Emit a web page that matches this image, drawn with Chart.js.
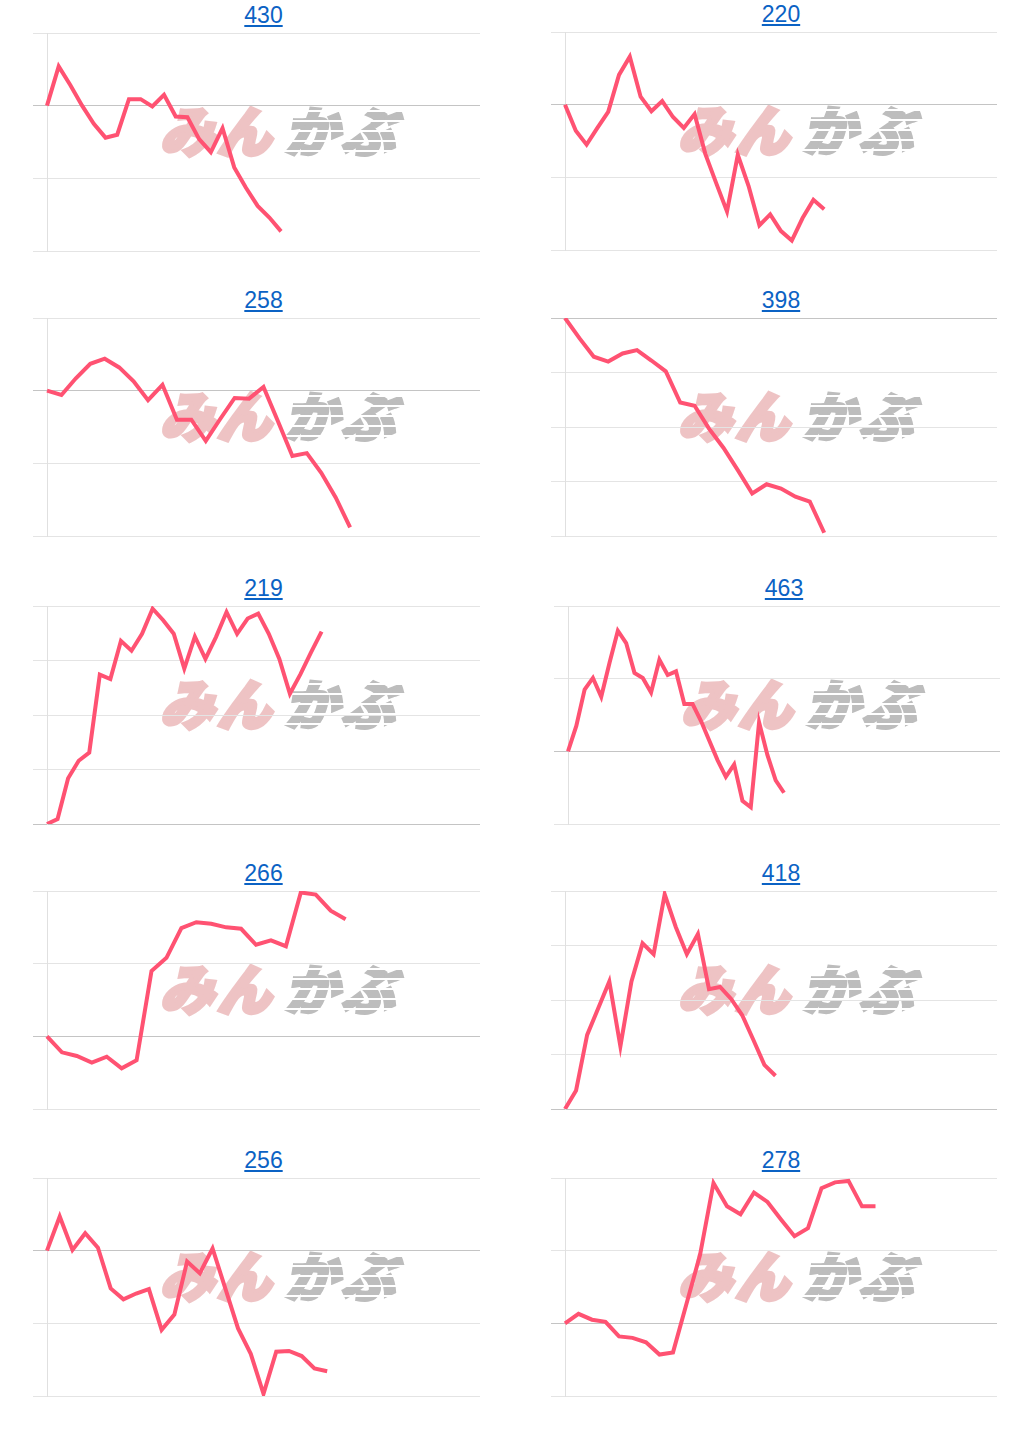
<!DOCTYPE html>
<html>
<head>
<meta charset="utf-8">
<script src="https://cdn.jsdelivr.net/npm/chart.js@4/dist/chart.umd.min.js"></script>
<style>
  body { margin: 0; background: #fff; width: 1034px; height: 1430px; position: relative; overflow: hidden;
         font-family: "Liberation Sans", Arial, sans-serif; }
  .ttl { position: absolute; text-align: center; font-size: 23px; line-height: 26px; }
  .ttl a { color: #0b62c4; text-decoration: underline; }
  .wm { position: absolute; white-space: nowrap; font-family: "Noto Sans CJK JP"; font-weight: 900;
        font-size: 54px; line-height: 54px; transform: skewX(-14deg); transform-origin: left bottom; }
  .wm span { position: relative; display: inline-block; }
  .wm .a { color: #eec3c4; -webkit-text-stroke: 4px #eec3c4; letter-spacing: 3px; }
  .wm .b { margin-left: 10px; color: #bdbdbd; -webkit-text-stroke: 3px #bdbdbd; letter-spacing: 3px; }
  .wm .b::after { content: ""; position: absolute; left: -4px; right: -4px; top: 0; bottom: 0;
                  background: repeating-linear-gradient(to bottom, rgba(255,255,255,0) 0 8px, #fff 8px 10px); }
  canvas { position: absolute; }
</style>
</head>
<body>
<script>
// stock titles (link text above each chart)
const titles = ['430', '220', '258', '398', '219', '463', '266', '418', '256', '278'];

// number of time slots on the x axis for each chart
const slotCounts = [38, 41, 31, 31, 42, 53, 30, 40, 35, 33];

// y range (% change from start), gridline every 1
const yMins = [-2, -2, -2, -4, 0, -1, -1, 0, -2, -1];
const yMaxs = [1, 1, 1, 0, 4, 2, 2, 4, 1, 2];

// series, % change from the first value
const s430 = [0, 0.54, 0.28, 0, -0.25, -0.44, -0.40, 0.09, 0.09, -0.01, 0.15, -0.15, -0.16, -0.46, -0.64,
              -0.31, -0.85, -1.13, -1.38, -1.54, -1.73];
const s220 = [0, -0.36, -0.55, -0.32, -0.10, 0.41, 0.66, 0.11, -0.09, 0.05, -0.17, -0.32, -0.13, -0.68,
              -1.08, -1.47, -0.69, -1.12, -1.66, -1.51, -1.74, -1.87, -1.56, -1.31, -1.44];
const s258 = [0, -0.06, 0.17, 0.37, 0.44, 0.32, 0.13, -0.13, 0.08, -0.40, -0.40, -0.69, -0.39, -0.10,
              -0.11, 0.05, -0.42, -0.90, -0.86, -1.13, -1.47, -1.88];
const s398 = [0, -0.37, -0.71, -0.80, -0.65, -0.59, -0.78, -0.98, -1.55, -1.61, -2.03, -2.38, -2.79,
              -3.22, -3.05, -3.13, -3.28, -3.37, -3.94];
const s219 = [0, 0.09, 0.84, 1.16, 1.31, 2.74, 2.66, 3.36, 3.18, 3.49, 3.95, 3.74, 3.49, 2.85, 3.44, 3.03,
              3.43, 3.89, 3.49, 3.77, 3.86, 3.49, 3.03, 2.39, 2.75, 3.15, 3.53];
const s463 = [0, 0.35, 0.85, 1.01, 0.75, 1.22, 1.66, 1.49, 1.08, 1.01, 0.81, 1.26, 1.05, 1.10, 0.65, 0.65,
              0.42, 0.15, -0.12, -0.35, -0.18, -0.68, -0.77, 0.40, -0.05, -0.40, -0.57];
const s266 = [0, -0.22, -0.27, -0.36, -0.28, -0.44, -0.33, 0.90, 1.08, 1.49, 1.57, 1.55, 1.50, 1.48, 1.26,
              1.32, 1.24, 1.98, 1.95, 1.73, 1.61];
const s418 = [0, 0.34, 1.36, 1.85, 2.34, 1.15, 2.34, 3.04, 2.84, 3.94, 3.34, 2.84, 3.21, 2.20, 2.24, 2.02,
              1.72, 1.27, 0.81, 0.61];
const s256 = [0, 0.47, 0.01, 0.24, 0.04, -0.52, -0.67, -0.59, -0.53, -1.09, -0.88, -0.15, -0.31, 0.03,
              -0.52, -1.07, -1.42, -1.97, -1.39, -1.38, -1.45, -1.62, -1.66];
const s278 = [0, 0.13, 0.05, 0.02, -0.18, -0.20, -0.26, -0.43, -0.40, 0.27, 0.94, 1.93, 1.61, 1.50, 1.80,
              1.67, 1.43, 1.20, 1.31, 1.86, 1.94, 1.96, 1.61, 1.61];

const seriesList = [s430, s220, s258, s398, s219, s463, s266, s418, s256, s278];

// layout: chart area boxes in page pixels
const colLeft = [47, 565];
const colWidth = [433, 432];
const rowTop = [33, 318, 606, 891, 1178];
const areaH = 218;
const tickLen = 14;
const pad = 4;

Chart.defaults.font.family = '"Liberation Sans", Arial, sans-serif';

titles.forEach((t, i) => {
  const col = i % 2, row = Math.floor(i / 2);
  let left = colLeft[col];
  if (i === 5) left += 3;      // 463 sits a little to the right
  let top = rowTop[row];
  if (i === 1) top -= 1;
  const w = colWidth[col];

  const ttl = document.createElement('div');
  ttl.className = 'ttl';
  ttl.style.left = left + 'px';
  ttl.style.width = w + 'px';
  ttl.style.top = (top - 31) + 'px';
  ttl.innerHTML = '<a href="#">' + t + '</a>';
  document.body.appendChild(ttl);

  const wm = document.createElement('div');
  wm.className = 'wm';
  wm.style.left = (left + 112) + 'px';
  wm.style.top = (top + 69) + 'px';
  wm.innerHTML = '<span class="a">みん</span><span class="b">かぶ</span>';
  document.body.appendChild(wm);

  const cv = document.createElement('canvas');
  cv.width = w + tickLen + pad;
  cv.height = areaH + pad * 2;
  cv.style.left = (left - tickLen) + 'px';
  cv.style.top = (top - pad) + 'px';
  document.body.appendChild(cv);

  const labels = Array.from({ length: slotCounts[i] }, (_, k) => k);

  new Chart(cv, {
    type: 'line',
    data: {
      labels,
      datasets: [{
        data: seriesList[i],
        borderColor: '#ff5272',
        borderWidth: 4,
        pointRadius: 0,
        tension: 0,
        fill: false
      }]
    },
    options: {
      responsive: false,
      animation: false,
      devicePixelRatio: 1,
      layout: { padding: { top: pad, bottom: pad, right: pad, left: 0 } },
      plugins: { legend: { display: false }, tooltip: { enabled: false } },
      scales: {
        x: { display: false },
        y: {
          min: yMins[i],
          max: yMaxs[i],
          ticks: { display: false, stepSize: 1 },
          grid: {
            tickLength: tickLen,
            color: ctx => (ctx.tick && ctx.tick.value === 0) ? '#c4c4c4' : '#e4e4e4'
          },
          border: { display: true, color: '#e0e0e0' }
        }
      }
    }
  });
});
</script>
</body>
</html>
